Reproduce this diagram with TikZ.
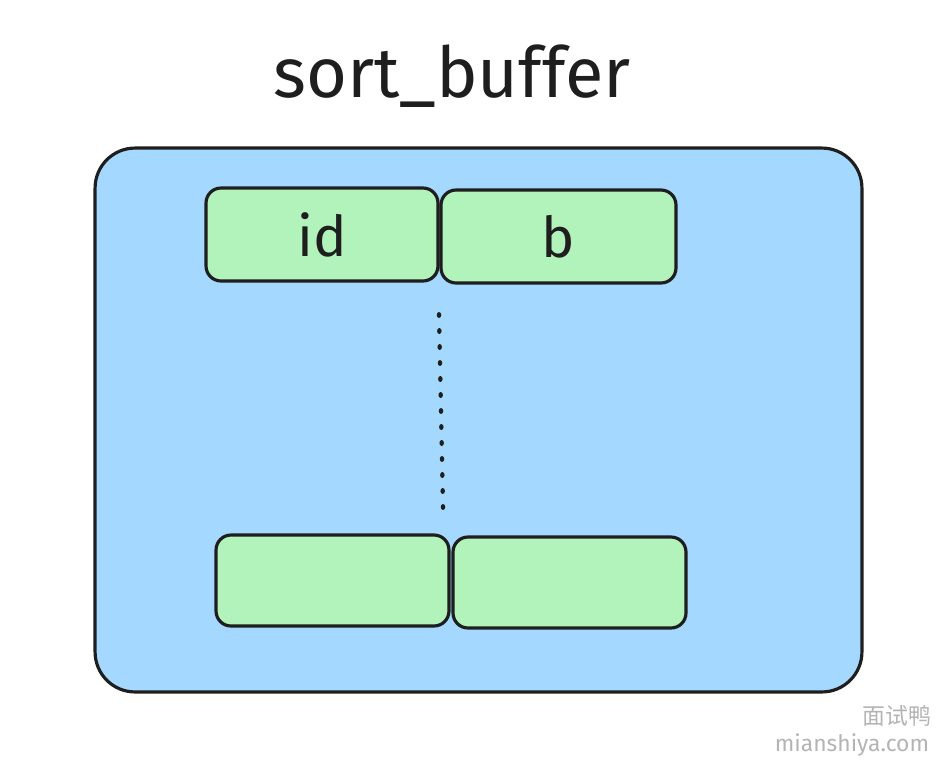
\documentclass[tikz,border=0pt]{standalone}
\usepackage{fontspec}
\usetikzlibrary{calc}
\setmainfont{Fira Sans}
\newfontfamily\cjk{Noto Sans CJK SC}
\definecolor{bufblue}{HTML}{A5D8FF}
\definecolor{cellgreen}{HTML}{B2F2BB}
\definecolor{inkdark}{HTML}{1E1E1E}
\definecolor{markgray}{HTML}{B4B4B4}
\tikzset{
  buffer/.style={rectangle, draw=inkdark, fill=bufblue, line width=1.8pt, rounded corners=0.8cm},
  cell/.style={rectangle, draw=inkdark, fill=cellgreen, line width=1.8pt, rounded corners=0.3cm,
    font=\fontsize{32}{36}\selectfont, text=inkdark},
}
\begin{document}
\begin{tikzpicture}[x=0.02cm, y=-0.02cm]
  \useasboundingbox[fill=white] (0,0) rectangle (942,768);
  \node (title) at (452,76) [font=\fontsize{40}{46}\selectfont, text=inkdark] {sort\_buffer};
  \node (buf) at (478.5,420) [buffer, minimum width=15.34cm, minimum height=10.88cm] {};
  \node (id) at (322,234.5) [cell, minimum width=4.64cm, minimum height=1.86cm] {id};
  \node (b) at (558.5,236.5) [cell, minimum width=4.7cm, minimum height=1.86cm] {b};
  \node (last1) at (332.5,580.5) [cell, minimum width=4.66cm, minimum height=1.82cm] {};
  \node (last2) at (569.5,582.5) [cell, minimum width=4.66cm, minimum height=1.82cm] {};
  \coordinate (dtop) at (439,315);
  \coordinate (dbot) at (443,507);
  \foreach \k in {0,...,12}
    \fill[inkdark] ($(dtop)!\k/12!(dbot)$) ellipse (0.045cm and 0.06cm);
  \node (cn) at (897,716) [font=\cjk\fontsize{13}{15}\selectfont, text=markgray] {面试鸭};
  \node (site) at (852,745) [font=\fontsize{13}{15}\selectfont, text=markgray] {mianshiya.com};
\end{tikzpicture}
\end{document}
